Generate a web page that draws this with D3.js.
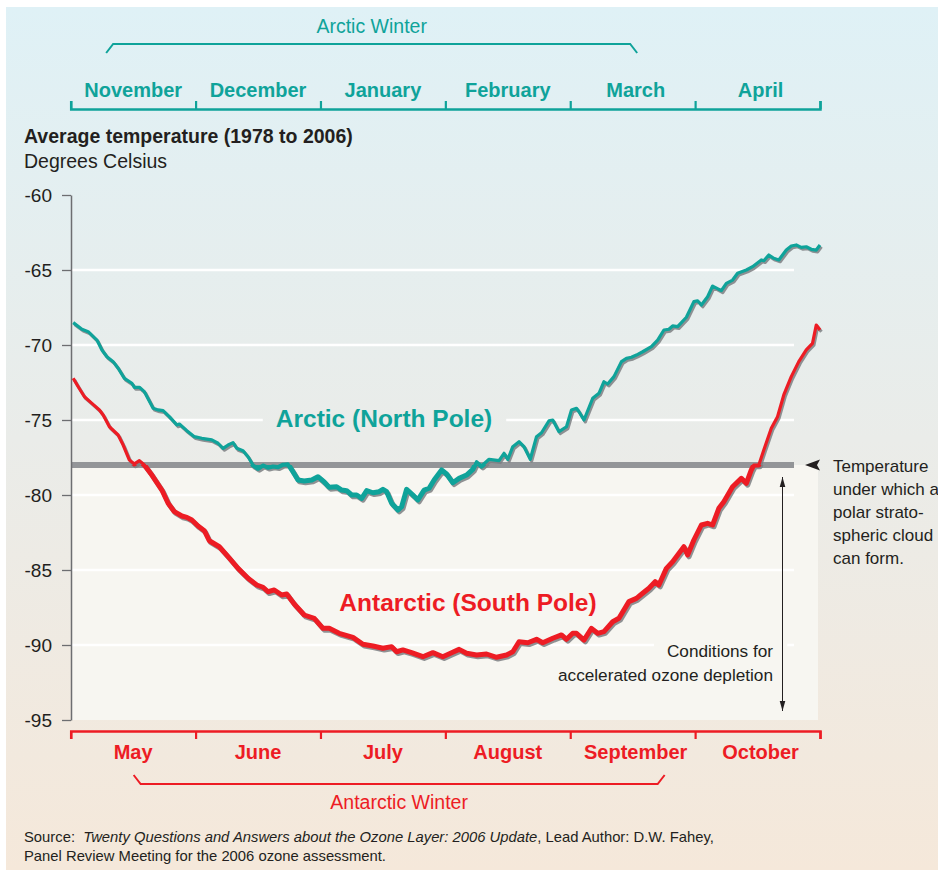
<!DOCTYPE html>
<html>
<head>
<meta charset="utf-8">
<script src="https://cdn.jsdelivr.net/npm/d3@7"></script>
<style>
  body { margin: 0; background: #fff; }
  svg { display: block; font-family: "Liberation Sans", Arial, sans-serif; }
</style>
</head>
<body>
<svg></svg>
<script>
//* data
const arcticMonths = ["November", "December", "January", "February", "March", "April"];
const antarcticMonths = ["May", "June", "July", "August", "September", "October"];
const tempTicks = [-60, -65, -70, -75, -80, -85, -90, -95];
const pscTemp = -78;

// position in months from start of Nov (Arctic) / May (Antarctic)
const arcticPos = [
	0.02, 0.09, 0.14, 0.21, 0.25, 0.29, 0.34, 0.38, 0.43, 0.49,
	0.51, 0.55, 0.59, 0.66, 0.70, 0.74, 0.79, 0.85, 0.87, 0.93,
	0.99, 1.05, 1.13, 1.18, 1.22, 1.26, 1.30, 1.33, 1.38, 1.42,
	1.46, 1.50, 1.54, 1.58, 1.62, 1.66, 1.70, 1.74, 1.78, 1.82,
	1.87, 1.93, 1.98, 2.03, 2.07, 2.13, 2.17, 2.21, 2.25, 2.29,
	2.33, 2.37, 2.42, 2.47, 2.50, 2.53, 2.57, 2.62, 2.65, 2.69,
	2.74, 2.78, 2.83, 2.87, 2.91, 2.97, 3.01, 3.06, 3.11, 3.17,
	3.22, 3.25, 3.29, 3.35, 3.43, 3.47, 3.50, 3.54, 3.59, 3.63,
	3.68, 3.73, 3.77, 3.83, 3.86, 3.91, 3.97, 4.01, 4.05, 4.07,
	4.11, 4.18, 4.23, 4.27, 4.30, 4.35, 4.41, 4.45, 4.49, 4.53,
	4.58, 4.65, 4.70, 4.75, 4.79, 4.82, 4.86, 4.93, 4.99, 5.02,
	5.05, 5.10, 5.14, 5.21, 5.25, 5.30, 5.34, 5.41, 5.46, 5.53,
	5.55, 5.59, 5.63, 5.67, 5.73, 5.77, 5.81, 5.85, 5.89, 5.93,
	5.97, 6.00
];
const arcticTemp = [
	-68.51, -68.95, -69.11, -69.67, -70.33, -70.78, -71.11, -71.55, -72.22, -72.55,
	-72.82, -72.82, -73.11, -74.22, -74.33, -74.38, -74.78, -75.33, -75.27, -75.71,
	-76.11, -76.22, -76.33, -76.55, -76.89, -76.67, -76.51, -76.89, -77.05, -77.45,
	-78.0, -78.22, -78.0, -78.15, -78.07, -78.11, -77.95, -77.93, -78.45, -79.0,
	-79.07, -79.0, -78.78, -79.13, -79.49, -79.45, -79.67, -79.71, -80.0, -80.0,
	-80.22, -79.71, -79.85, -79.78, -79.62, -79.78, -80.55, -81.0, -80.78, -79.62,
	-80.0, -80.33, -79.67, -79.55, -79.0, -78.33, -78.6, -79.18, -78.89, -78.67,
	-78.29, -77.78, -78.07, -77.62, -77.71, -77.22, -77.62, -76.78, -76.45, -76.78,
	-77.62, -76.11, -75.85, -75.05, -75.0, -75.78, -75.45, -74.33, -74.22, -74.45,
	-75.0, -73.55, -73.22, -72.45, -72.6, -72.11, -71.11, -70.89, -70.82, -70.67,
	-70.45, -70.11, -69.67, -69.0, -68.95, -68.73, -68.78, -68.15, -67.11, -67.05,
	-67.33, -66.78, -66.07, -66.38, -65.89, -65.67, -65.22, -65.0, -64.78, -64.33,
	-64.38, -64.0, -64.22, -64.33, -63.67, -63.4, -63.33, -63.49, -63.45, -63.62,
	-63.67, -63.33
];

const antarcticPos = [
	0.02, 0.06, 0.11, 0.17, 0.23, 0.26, 0.31, 0.38, 0.42, 0.47,
	0.51, 0.55, 0.59, 0.65, 0.73, 0.78, 0.83, 0.89, 0.93, 0.97,
	1.02, 1.07, 1.11, 1.19, 1.26, 1.34, 1.42, 1.49, 1.54, 1.58,
	1.63, 1.69, 1.73, 1.79, 1.87, 1.95, 2.02, 2.07, 2.15, 2.26,
	2.34, 2.42, 2.50, 2.57, 2.61, 2.66, 2.73, 2.82, 2.90, 2.98,
	3.05, 3.11, 3.17, 3.25, 3.33, 3.41, 3.49, 3.54, 3.59, 3.66,
	3.73, 3.78, 3.86, 3.93, 3.97, 4.02, 4.05, 4.11, 4.17, 4.22,
	4.27, 4.34, 4.39, 4.47, 4.53, 4.58, 4.63, 4.68, 4.71, 4.77,
	4.82, 4.91, 4.94, 4.99, 5.05, 5.10, 5.14, 5.19, 5.23, 5.30,
	5.37, 5.41, 5.45, 5.47, 5.51, 5.55, 5.61, 5.66, 5.71, 5.77,
	5.83, 5.89, 5.94, 5.97, 6.00
];
const antarcticTemp = [
	-72.22, -72.78, -73.45, -73.89, -74.33, -74.67, -75.45, -76.0, -76.67, -77.67,
	-77.93, -77.71, -78.0, -78.67, -79.67, -80.55, -81.11, -81.4, -81.49, -81.67,
	-82.07, -82.38, -83.05, -83.45, -84.11, -84.89, -85.55, -86.0, -86.15, -86.45,
	-86.33, -86.67, -86.6, -87.27, -88.0, -88.22, -88.89, -88.89, -89.22, -89.49,
	-89.95, -90.07, -90.22, -90.11, -90.45, -90.33, -90.51, -90.78, -90.51, -90.78,
	-90.51, -90.29, -90.55, -90.67, -90.6, -90.82, -90.67, -90.45, -89.78, -89.85,
	-89.62, -89.85, -89.55, -89.33, -89.62, -89.22, -89.22, -89.67, -88.89, -89.22,
	-89.11, -88.45, -88.22, -87.11, -86.89, -86.55, -86.22, -85.78, -86.0, -84.89,
	-84.45, -83.45, -84.0, -83.0, -82.0, -81.89, -82.0, -80.89, -80.45, -79.45,
	-78.89, -79.22, -78.33, -78.0, -78.0, -77.0, -75.55, -74.78, -73.33, -72.11,
	-71.11, -70.33, -69.89, -68.67, -69.0
];

const TEAL = "#0fa39a";
const RED = "#ed1c24";
const INK = "#231f20";

const svg = d3.select("svg").attr("width", 938).attr("height", 872);

//* background
const defs = svg.append("defs");
const grad = defs.append("linearGradient").attr("id", "bg").attr("x1", 0).attr("y1", 0).attr("x2", 0).attr("y2", 1);
grad.append("stop").attr("offset", 0).attr("stop-color", "#dff1f6");
grad.append("stop").attr("offset", 0.5).attr("stop-color", "#eaece9");
grad.append("stop").attr("offset", 1).attr("stop-color", "#f5e8da");
svg.append("rect").attr("x", 6).attr("y", 7).attr("width", 932).attr("height", 863).attr("fill", "url(#bg)");

//* scales
const x = d3.scaleLinear().domain([0, 6]).range([70.7, 820]);
const y = d3.scaleLinear().domain([-95, -60]).range([720, 195]);
const yPsc = y(pscTemp);

// lighter panel under the threshold
svg.append("rect")
	.attr("x", 72).attr("y", yPsc)
	.attr("width", 746).attr("height", y(-95) - yPsc)
	.attr("fill", "#f7f6f1");

const gridG = svg.append("g");

// threshold line
svg.append("line")
	.attr("x1", 72).attr("x2", 794)
	.attr("y1", yPsc).attr("y2", yPsc)
	.attr("stroke", "#939598").attr("stroke-width", 6);

//* y axis
const yAxis = svg.append("g")
	.attr("transform", "translate(71,0)")
	.call(d3.axisLeft(y).tickValues(tempTicks).tickSize(9).tickSizeOuter(0).tickPadding(10).tickFormat((d) => String(d)));
yAxis.select(".domain").attr("stroke", "#6d6e71").attr("stroke-width", 1.5);
yAxis.selectAll(".tick line").attr("stroke", "#6d6e71").attr("stroke-width", 1.3);
yAxis.selectAll(".tick text").attr("fill", INK).style("font-size", "19px").style("font-family", "Liberation Sans, Arial, sans-serif");

//* month axes
function monthAxis(axis, yPos, color, names, labelY) {
	const g = svg.append("g")
		.attr("transform", `translate(0,${yPos})`)
		.call(axis(x).tickValues(d3.range(7)).tickSize(8).tickSizeOuter(8).tickFormat(""));
	g.select(".domain").attr("stroke", color).attr("stroke-width", 2.5);
	g.selectAll(".tick line").attr("stroke", color).attr("stroke-width", 2.2);
	svg.append("g").selectAll("text")
		.data(names)
		.enter()
		.append("text")
		.attr("x", (_, i) => x(i + 0.5) + (i > 3 ? 3 : 0))
		.attr("y", labelY)
		.attr("text-anchor", "middle")
		.attr("fill", color)
		.style("font-size", "20px")
		.style("font-weight", "bold")
		.text((d) => d);
}
monthAxis(d3.axisTop, 109, TEAL, arcticMonths, 97);
monthAxis(d3.axisBottom, 731, RED, antarcticMonths, 759);

//* winter brackets
function bracket(x0, x1, yLine, yEnd, color, label, labelY) {
	svg.append("path")
		.attr("d", `M${x0 - 7},${yEnd} L${x0},${yLine} L${x1},${yLine} L${x1 + 7},${yEnd}`)
		.attr("fill", "none").attr("stroke", color).attr("stroke-width", 2);
	svg.append("text")
		.attr("x", (x0 + x1) / 2).attr("y", labelY)
		.attr("text-anchor", "middle").attr("fill", color)
		.style("font-size", "19.5px")
		.text(label);
}
bracket(x(0.34), x(4.48), 44, 53, TEAL, "Arctic Winter", 33);
bracket(x(0.56), x(4.70), 784, 775, RED, "Antarctic Winter", 809);

//* titles
svg.append("text").attr("x", 24).attr("y", 143).attr("fill", INK)
	.style("font-size", "19.5px").style("font-weight", "bold")
	.text("Average temperature (1978 to 2006)");
svg.append("text").attr("x", 24).attr("y", 168).attr("fill", INK)
	.style("font-size", "19.5px")
	.text("Degrees Celsius");

//* curves
defs.append("clipPath").attr("id", "above").append("rect")
	.attr("x", 0).attr("y", 0).attr("width", 938).attr("height", yPsc);
defs.append("clipPath").attr("id", "below").append("rect")
	.attr("x", 0).attr("y", yPsc).attr("width", 938).attr("height", 872 - yPsc);

const lineGenerator = d3.line().x((d) => x(d[0])).y((d) => y(d[1]));

function drawCurve(pos, temp, color) {
	const pts = d3.zip(pos, temp);
	const g = svg.append("g");
	[["above", 3.2], ["below", 5]].forEach(([clip, w]) => {
		const part = g.append("g").attr("clip-path", `url(#${clip})`);
		part.append("path")
			.attr("d", lineGenerator(pts))
			.attr("transform", "translate(1.4,1.8)")
			.attr("fill", "none").attr("stroke", "#7d7f82").attr("stroke-opacity", 0.85)
			.attr("stroke-width", w).attr("stroke-linejoin", "round");
		part.append("path")
			.attr("d", lineGenerator(pts))
			.attr("fill", "none").attr("stroke", color)
			.attr("stroke-width", w).attr("stroke-linejoin", "round");
	});
}
drawCurve(arcticPos, arcticTemp, TEAL);
drawCurve(antarcticPos, antarcticTemp, RED);

//* curve labels
const arcticLabel = svg.append("text")
	.attr("x", 384).attr("y", 427)
	.attr("text-anchor", "middle").attr("fill", TEAL)
	.style("font-size", "24.5px").style("font-weight", "bold")
	.text("Arctic (North Pole)");
svg.append("text")
	.attr("x", 468).attr("y", 611)
	.attr("text-anchor", "middle").attr("fill", RED)
	.style("font-size", "24.5px").style("font-weight", "bold")
	.text("Antarctic (South Pole)");

//* annotations
svg.append("path")
	.attr("d", `M805,${yPsc} L820,${yPsc - 5.5} L817,${yPsc} L820,${yPsc + 5.5} Z`)
	.attr("fill", INK);
svg.append("text")
	.attr("x", 833).attr("y", 472)
	.attr("fill", INK).style("font-size", "17px")
	.selectAll("tspan")
	.data(["Temperature", "under which a", "polar strato-", "spheric cloud", "can form."])
	.enter()
	.append("tspan")
	.attr("x", 833)
	.attr("dy", (_, i) => (i ? 23 : 0))
	.text((d) => d);

defs.append("marker").attr("id", "ah")
	.attr("viewBox", "0 0 10 10").attr("refX", 10).attr("refY", 5)
	.attr("markerWidth", 10).attr("markerHeight", 10).attr("markerUnits", "userSpaceOnUse")
	.attr("orient", "auto-start-reverse")
	.append("path").attr("d", "M0,2.2 L10,5 L0,7.8 Z").attr("fill", INK);
svg.append("line")
	.attr("x1", 782.5).attr("x2", 782.5)
	.attr("y1", yPsc + 12).attr("y2", y(-94.4))
	.attr("stroke", INK).attr("stroke-width", 1)
	.attr("marker-start", "url(#ah)").attr("marker-end", "url(#ah)");

const condText = svg.append("text")
	.attr("x", 773).attr("y", 657)
	.attr("text-anchor", "end").attr("fill", INK).style("font-size", "17.2px");
condText.append("tspan").attr("x", 773).attr("id", "cond1").text("Conditions for");
condText.append("tspan").attr("x", 773).attr("dy", 24).text("accelerated ozone depletion");

//* gridlines, broken around labels
const blockers = [arcticLabel.node().getBBox(), document.getElementById("cond1").getBBox()];
const gridSegments = [];
tempTicks.filter((t) => t > -95 && t < -60).forEach((t) => {
	const yy = y(t);
	let segs = [[72, 794]];
	blockers.forEach((b) => {
		if (yy > b.y && yy < b.y + b.height) {
			const g0 = b.x - 13, g1 = b.x + b.width + 14;
			segs = segs.flatMap(([a, c]) => {
				const out = [];
				if (g0 > a) out.push([a, Math.min(c, g0)]);
				if (g1 < c) out.push([Math.max(a, g1), c]);
				return out;
			});
		}
	});
	segs.forEach((s) => gridSegments.push({ y: yy, x0: s[0], x1: s[1] }));
});
gridG.selectAll("line")
	.data(gridSegments)
	.enter()
	.append("line")
	.attr("x1", (d) => d.x0).attr("x2", (d) => d.x1)
	.attr("y1", (d) => d.y).attr("y2", (d) => d.y)
	.attr("stroke", "#fff").attr("stroke-width", 2.6);

//* source
const src = svg.append("text").attr("x", 24).attr("y", 842).attr("fill", INK)
	.style("font-size", "14.8px").style("white-space", "pre");
src.append("tspan").text("Source:  ");
src.append("tspan").style("font-style", "italic").text("Twenty Questions and Answers about the Ozone Layer: 2006 Update");
src.append("tspan").text(", Lead Author: D.W. Fahey,");
svg.append("text").attr("x", 24).attr("y", 861).attr("fill", INK).style("font-size", "14.8px")
	.text("Panel Review Meeting for the 2006 ozone assessment.");
</script>
</body>
</html>
